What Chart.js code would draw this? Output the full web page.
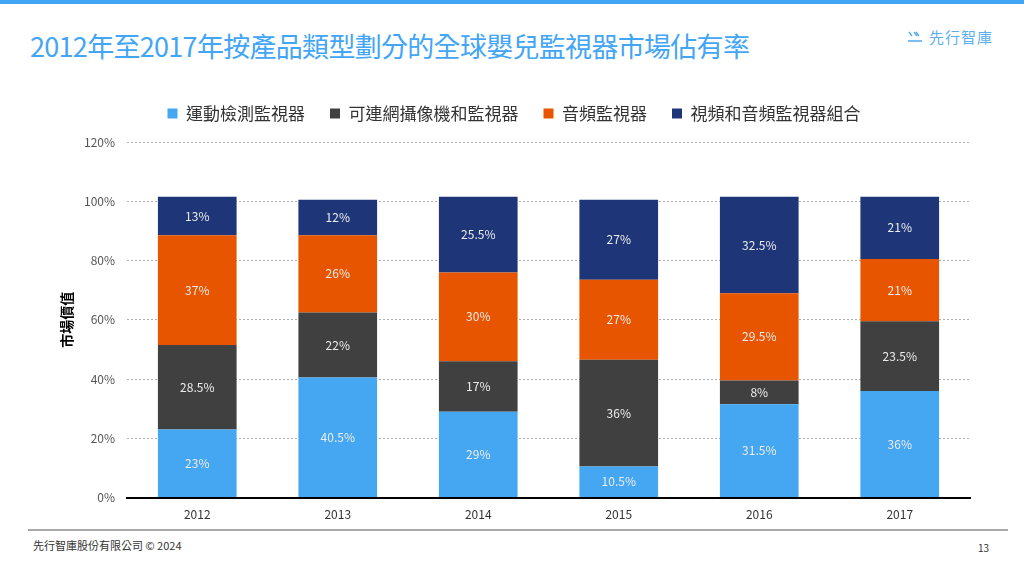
<!DOCTYPE html>
<html>
<head>
<meta charset="utf-8">
<script src="https://cdn.jsdelivr.net/npm/chart.js@4.4.1/dist/chart.umd.min.js"></script>
<style>
  html, body { margin:0; padding:0; background:#fff; }
  body { width:1024px; height:576px; position:relative; overflow:hidden; font-family:"Noto Sans CJK TC","Noto Sans",sans-serif; }
  #topbar { position:absolute; left:0; top:0; width:1024px; height:4px; background:#42A5F5; }
  #title { position:absolute; left:30px; top:26px; font-size:27px; font-weight:400; color:#42A5F5; letter-spacing:-0.7px; white-space:nowrap; }
  #logo { position:absolute; left:908px; top:26px; font-size:15px; color:#5AAFF0; white-space:nowrap; display:flex; align-items:center; letter-spacing:1px; }
  #logo svg { margin-right:7px; }
  #wrap { position:absolute; left:0; top:72px; width:1024px; height:456px; }
  #footline { position:absolute; left:28px; top:529px; width:980px; height:2px; background:#a8a8a8; }
  #foottext { position:absolute; left:33px; top:537px; font-size:11px; color:#333; white-space:nowrap; }
  #pagenum { position:absolute; left:978px; top:540px; font-size:10px; color:#333; }
</style>
</head>
<body>
<div id="topbar"></div>
<div id="title">2012年至2017年按產品類型劃分的全球嬰兒監視器市場佔有率</div>
<div id="logo"><svg width="14" height="12" viewBox="0 0 14 12"><path d="M1 1 L4 5 M6 1 L9 5 M8 1 L11 5" stroke="#5AAFF0" stroke-width="1.4" fill="none"/><path d="M0 10 L14 10" stroke="#5AAFF0" stroke-width="1.6"/></svg>先行智庫</div>
<div id="wrap"><canvas id="c"></canvas></div>
<div id="footline"></div>
<div id="foottext">先行智庫股份有限公司 © 2024</div>
<div id="pagenum">13</div>
<script>
const categories = ['2012','2013','2014','2015','2016','2017'];
const seriesNames = ['運動檢測監視器','可連網攝像機和監視器','音頻監視器','視頻和音頻監視器組合'];
const motion   = [23, 40.5, 29, 10.5, 31.5, 36];
const camera   = [28.5, 22, 17, 36, 8, 23.5];
const audio    = [37, 26, 30, 27, 29.5, 21];
const combo    = [13, 12, 25.5, 27, 32.5, 21];
const yTicks   = [0, 20, 40, 60, 80, 100, 120];
const colors   = ['#45A6F2', '#404040', '#E85500', '#1E3578'];

const seriesValues = [motion, camera, audio, combo];
const FONT = '"Noto Sans CJK TC", "Noto Sans", sans-serif';

const labelPlugin = {
  id: 'segLabels',
  afterDatasetsDraw(chart) {
    const ctx = chart.ctx;
    ctx.save();
    ctx.font = '12px ' + FONT;
    ctx.fillStyle = '#ececec';
    ctx.textAlign = 'center';
    ctx.textBaseline = 'middle';
    chart.data.datasets.forEach((ds, i) => {
      const meta = chart.getDatasetMeta(i);
      meta.data.forEach((el, j) => {
        const v = ds.data[j];
        ctx.fillText(v + '%', el.x, (el.y + el.base) / 2);
      });
    });
    ctx.restore();
  }
};

const legendSpace = {
  id: 'legendSpace',
  beforeInit(chart) {
    const origFit = chart.legend.fit;
    chart.legend.fit = function () {
      origFit.bind(chart.legend)();
      this.height += 10;
    };
  }
};

new Chart(document.getElementById('c'), {
  type: 'bar',
  data: {
    labels: categories,
    datasets: seriesNames.map((n, i) => ({
      label: n,
      data: seriesValues[i],
      backgroundColor: colors[i],
      borderWidth: 0,
      categoryPercentage: 1,
      barPercentage: 0.56
    }))
  },
  options: {
    responsive: true,
    maintainAspectRatio: false,
    animation: false,
    layout: { padding: { left: 58, right: 54, top: 8, bottom: 4 } },
    plugins: {
      legend: {
        position: 'top',
        labels: {
          boxWidth: 10, boxHeight: 10, padding: 25,
          color: '#333',
          font: { size: 17, family: FONT }
        }
      },
      tooltip: { enabled: false }
    },
    scales: {
      x: {
        stacked: true,
        grid: { display: false },
        border: { display: true, color: '#000', width: 2 },
        ticks: { color: '#333', padding: 2, font: { size: 12, family: FONT } }
      },
      y: {
        stacked: true,
        min: 0, max: 120,
        afterBuildTicks(scale) { scale.ticks = yTicks.map(v => ({ value: v })); },
        afterFit(scale) { scale.width = 69; },
        grid: { color: '#b0b0b0', drawTicks: false, lineWidth: 1 },
        border: { display: false, dash: [2, 2] },
        ticks: { color: '#555', padding: 12, callback: v => v + '%', font: { size: 12, family: FONT } },
        title: { display: true, text: '市場價值', color: '#000', font: { size: 14, weight: 'bold', family: FONT }, padding: 0 }
      }
    }
  },
  plugins: [labelPlugin, legendSpace]
});
</script>
</body>
</html>
